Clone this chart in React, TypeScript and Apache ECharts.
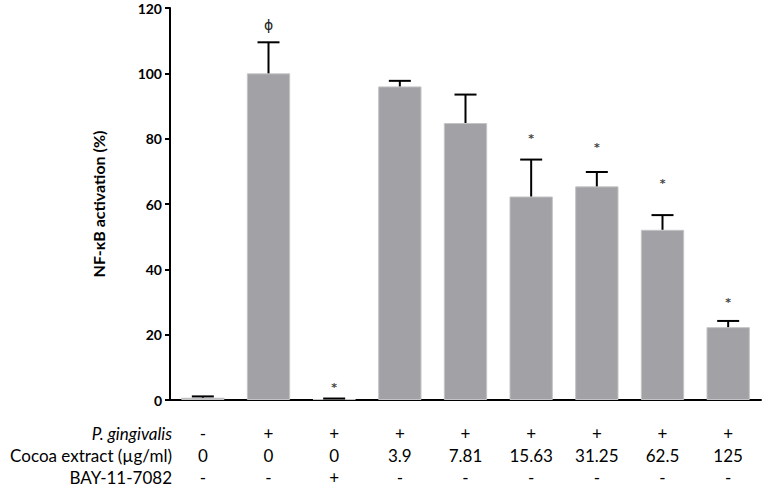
import React, { useEffect, useRef } from "react";
import * as echarts from "echarts";

const pGingivalis = ["-", "+", "+", "+", "+", "+", "+", "+", "+"];
const cocoaExtract = ["0", "0", "0", "3.9", "7.81", "15.63", "31.25", "62.5", "125"];
const bay117082 = ["-", "-", "+", "-", "-", "-", "-", "-", "-"];
const rowTitles = ["P. gingivalis", "Cocoa extract (µg/ml)", "BAY-11-7082"];

const means = [0.7, 100, 0.3, 96.0, 84.8, 62.3, 65.4, 52.1, 22.3];
const errTops = [1.1, 109.5, 0.45, 97.7, 93.5, 73.6, 69.8, 56.6, 24.2];
const marks = ["", "ϕ", "*", "", "", "*", "*", "*", "*"];
const markYs = [0, 114.8, 3.8, 0, 0, 80.0, 77.2, 66.4, 30.0];

const yTicks = { min: 0, max: 120, interval: 20 };

export default function App() {
  const ref = useRef<HTMLDivElement>(null);
  useEffect(() => {
    const chart = echarts.init(ref.current!, null, { renderer: "svg" });
    const cats = pGingivalis.map((_, i) => `${pGingivalis[i]}\n${cocoaExtract[i]}\n${bay117082[i]}`);
    const font = "Lato, 'Open Sans', sans-serif";
    chart.setOption({
      animation: false,
      grid: { left: 170, right: 4, top: 8, bottom: 86.5, containLabel: false },
      xAxis: {
        type: "category",
        data: cats,
        axisLine: { lineStyle: { color: "#000", width: 2 } },
        axisTick: { show: false },
        axisLabel: {
          interval: 0,
          margin: 22,
          color: "#000",
          fontFamily: font,
          fontSize: 17,
          lineHeight: 22,
        },
      },
      yAxis: {
        type: "value",
        min: yTicks.min,
        max: yTicks.max,
        interval: yTicks.interval,
        name: "NF-κB activation (%)",
        nameLocation: "middle",
        nameRotate: 90,
        nameGap: 64,
        nameTextStyle: { color: "#000", fontFamily: font, fontSize: 16, fontWeight: "bold" },
        axisLine: { show: true, lineStyle: { color: "#000", width: 2 } },
        axisTick: { show: true, length: 5, lineStyle: { color: "#000", width: 2 } },
        axisLabel: { color: "#000", fontFamily: font, fontSize: 14, fontWeight: "bold", margin: 8 },
        splitLine: { show: false },
      },
      graphic: rowTitles.map((t, i) => ({
        type: "text",
        right: 765 - 172,
        top: 425 + i * 22,
        style: {
          text: t,
          fill: "#000",
          font: `${i === 0 ? "italic " : ""}17px ${font}`,
          textAlign: "right",
        },
      })),
      series: [
        {
          type: "bar",
          data: means,
          barCategoryGap: "34%",
          itemStyle: { color: "#a2a1a6", borderColor: "#c4c4c6", borderWidth: 1 },
          z: 2,
        },
        {
          type: "custom",
          data: means.map((m, i) => [i, m, errTops[i], markYs[i]]),
          encode: { x: 0, y: 1 },
          z: 3,
          renderItem: (params: any, api: any) => {
            const i = api.value(0);
            const p1 = api.coord([i, api.value(1)]);
            const p2 = api.coord([i, api.value(2)]);
            const half = 11;
            const children: any[] = [
              { type: "line", shape: { x1: p1[0], y1: p1[1], x2: p2[0], y2: p2[1] }, style: { stroke: "#000", lineWidth: 2 } },
              { type: "line", shape: { x1: p2[0] - half, y1: p2[1], x2: p2[0] + half, y2: p2[1] }, style: { stroke: "#000", lineWidth: 2 } },
            ];
            const mk = marks[params.dataIndex];
            if (mk) {
              const p3 = api.coord([i, api.value(3)]);
              const isPhi = mk === "ϕ";
              children.push({
                type: "text",
                x: p3[0],
                y: p3[1],
                style: {
                  text: mk,
                  fill: isPhi ? "#222" : "#444",
                  font: isPhi ? "14px 'DejaVu Sans', sans-serif" : "bold 11px 'DejaVu Sans', sans-serif",
                  textAlign: "center",
                  textVerticalAlign: "middle",
                },
              });
            }
            return { type: "group", children };
          },
        },
      ],
    });
    return () => chart.dispose();
  }, []);
  return <div ref={ref} style={{ position: "absolute", left: 0, top: 0, width: 765, height: 488 }} />;
}
